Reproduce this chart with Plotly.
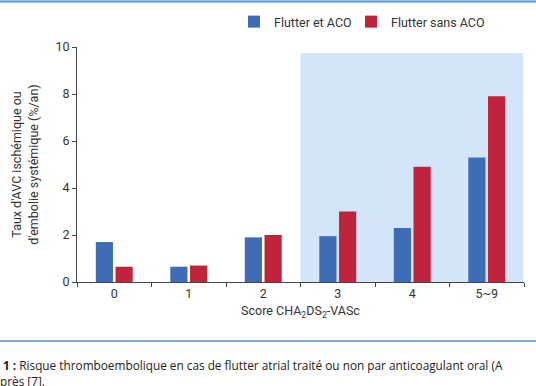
import plotly.graph_objects as go

categories = ["0", "1", "2", "3", "4", "5~9"]
avec_aco = [1.7, 0.65, 1.9, 1.95, 2.3, 5.3]
sans_aco = [0.65, 0.7, 2.0, 3.0, 4.9, 7.9]
series_names = ["Flutter et ACO", "Flutter sans ACO"]
y_ticks = [0, 2, 4, 6, 8, 10]

BLUE = "#3f6db5"
RED = "#c0233c"
FONT = "Roboto, Arial, sans-serif"
CAP_FONT = "Open Sans, Roboto, sans-serif"
TXT = "#333333"

W, H = 536, 386
L, R, T, B = 77, 12, 47, 104
PW, PH = W - L - R, H - T - B


def px(x):
    return (x - L) / PW


def py(y):
    return (H - B - y) / PH


fig = go.Figure()
fig.add_bar(x=categories, y=avec_aco, name=series_names[0], marker_color=BLUE,
            marker_line_width=0, legend="legend")
fig.add_bar(x=categories, y=sans_aco, name=series_names[1], marker_color=RED,
            marker_line_width=0, legend="legend2")

# shaded region for scores >= 3
fig.add_shape(type="rect", xref="x", yref="y", x0=2.5, x1=5.49, y0=0, y1=9.75,
              fillcolor="#d3e5f8", line_width=0, layer="below")

# decorative separators
fig.add_shape(type="line", xref="paper", yref="paper", x0=px(-5), x1=px(W + 5),
              y0=py(1.5), y1=py(1.5), line=dict(color="#6fa3dc", width=2.5))
fig.add_shape(type="line", xref="paper", yref="paper", x0=px(-5), x1=px(W + 5),
              y0=py(341), y1=py(341), line=dict(color="#7aaade", width=2))

fig.add_annotation(xref="paper", yref="paper", x=px(1), y=py(365),
                   xanchor="left", yanchor="middle", showarrow=False,
                   text="<b>1 :</b> Risque thromboembolique en cas de flutter atrial traité ou non par anticoagulant oral (A",
                   font=dict(family=CAP_FONT, size=11.8, color="#222222"))
fig.add_annotation(xref="paper", yref="paper", x=px(-2), y=py(380.5),
                   xanchor="left", yanchor="middle", showarrow=False,
                   text="près [7].",
                   font=dict(family=CAP_FONT, size=11.8, color="#222222"))

leg_common = dict(orientation="h", yanchor="middle", xanchor="left", y=py(22),
                  font=dict(size=12.5, color=TXT), bgcolor="rgba(0,0,0,0)", itemwidth=30)

fig.update_layout(
    width=W, height=H,
    margin=dict(l=L, r=R, t=T, b=B, autoexpand=False),
    paper_bgcolor="white", plot_bgcolor="white",
    font=dict(family=FONT, size=12, color=TXT),
    barmode="group", bargap=0.47, bargroupgap=0.13,
    showlegend=True,
    legend=dict(x=px(234), **leg_common),
    legend2=dict(x=px(351), **leg_common),
)
fig.update_xaxes(
    type="category", range=[-0.5, 5.5],
    showline=True, linecolor="#444444", linewidth=1,
    ticks="outside", tickson="boundaries", ticklen=4, tickcolor="#444444",
    showgrid=False, tickfont=dict(size=12.5, color=TXT),
    title=dict(text="Score CHA<sub>2</sub>DS<sub>2</sub>-VASc", font=dict(size=12.5, color=TXT), standoff=6),
)
fig.update_yaxes(
    range=[0, 10], tickvals=y_ticks,
    showline=True, linecolor="#444444", linewidth=1,
    ticks="outside", ticklen=4, tickcolor="#444444",
    showgrid=False, zeroline=False, tickfont=dict(size=12.5, color=TXT),
    title=dict(text="Taux d'AVC ischémique ou<br>d'embolie systémique (%/an)",
               font=dict(size=12.5, color=TXT), standoff=14),
)

fig.write_html("out.html", config={"displayModeBar": False},
               post_script="document.body.style.margin='0';document.body.style.overflow='hidden';")
